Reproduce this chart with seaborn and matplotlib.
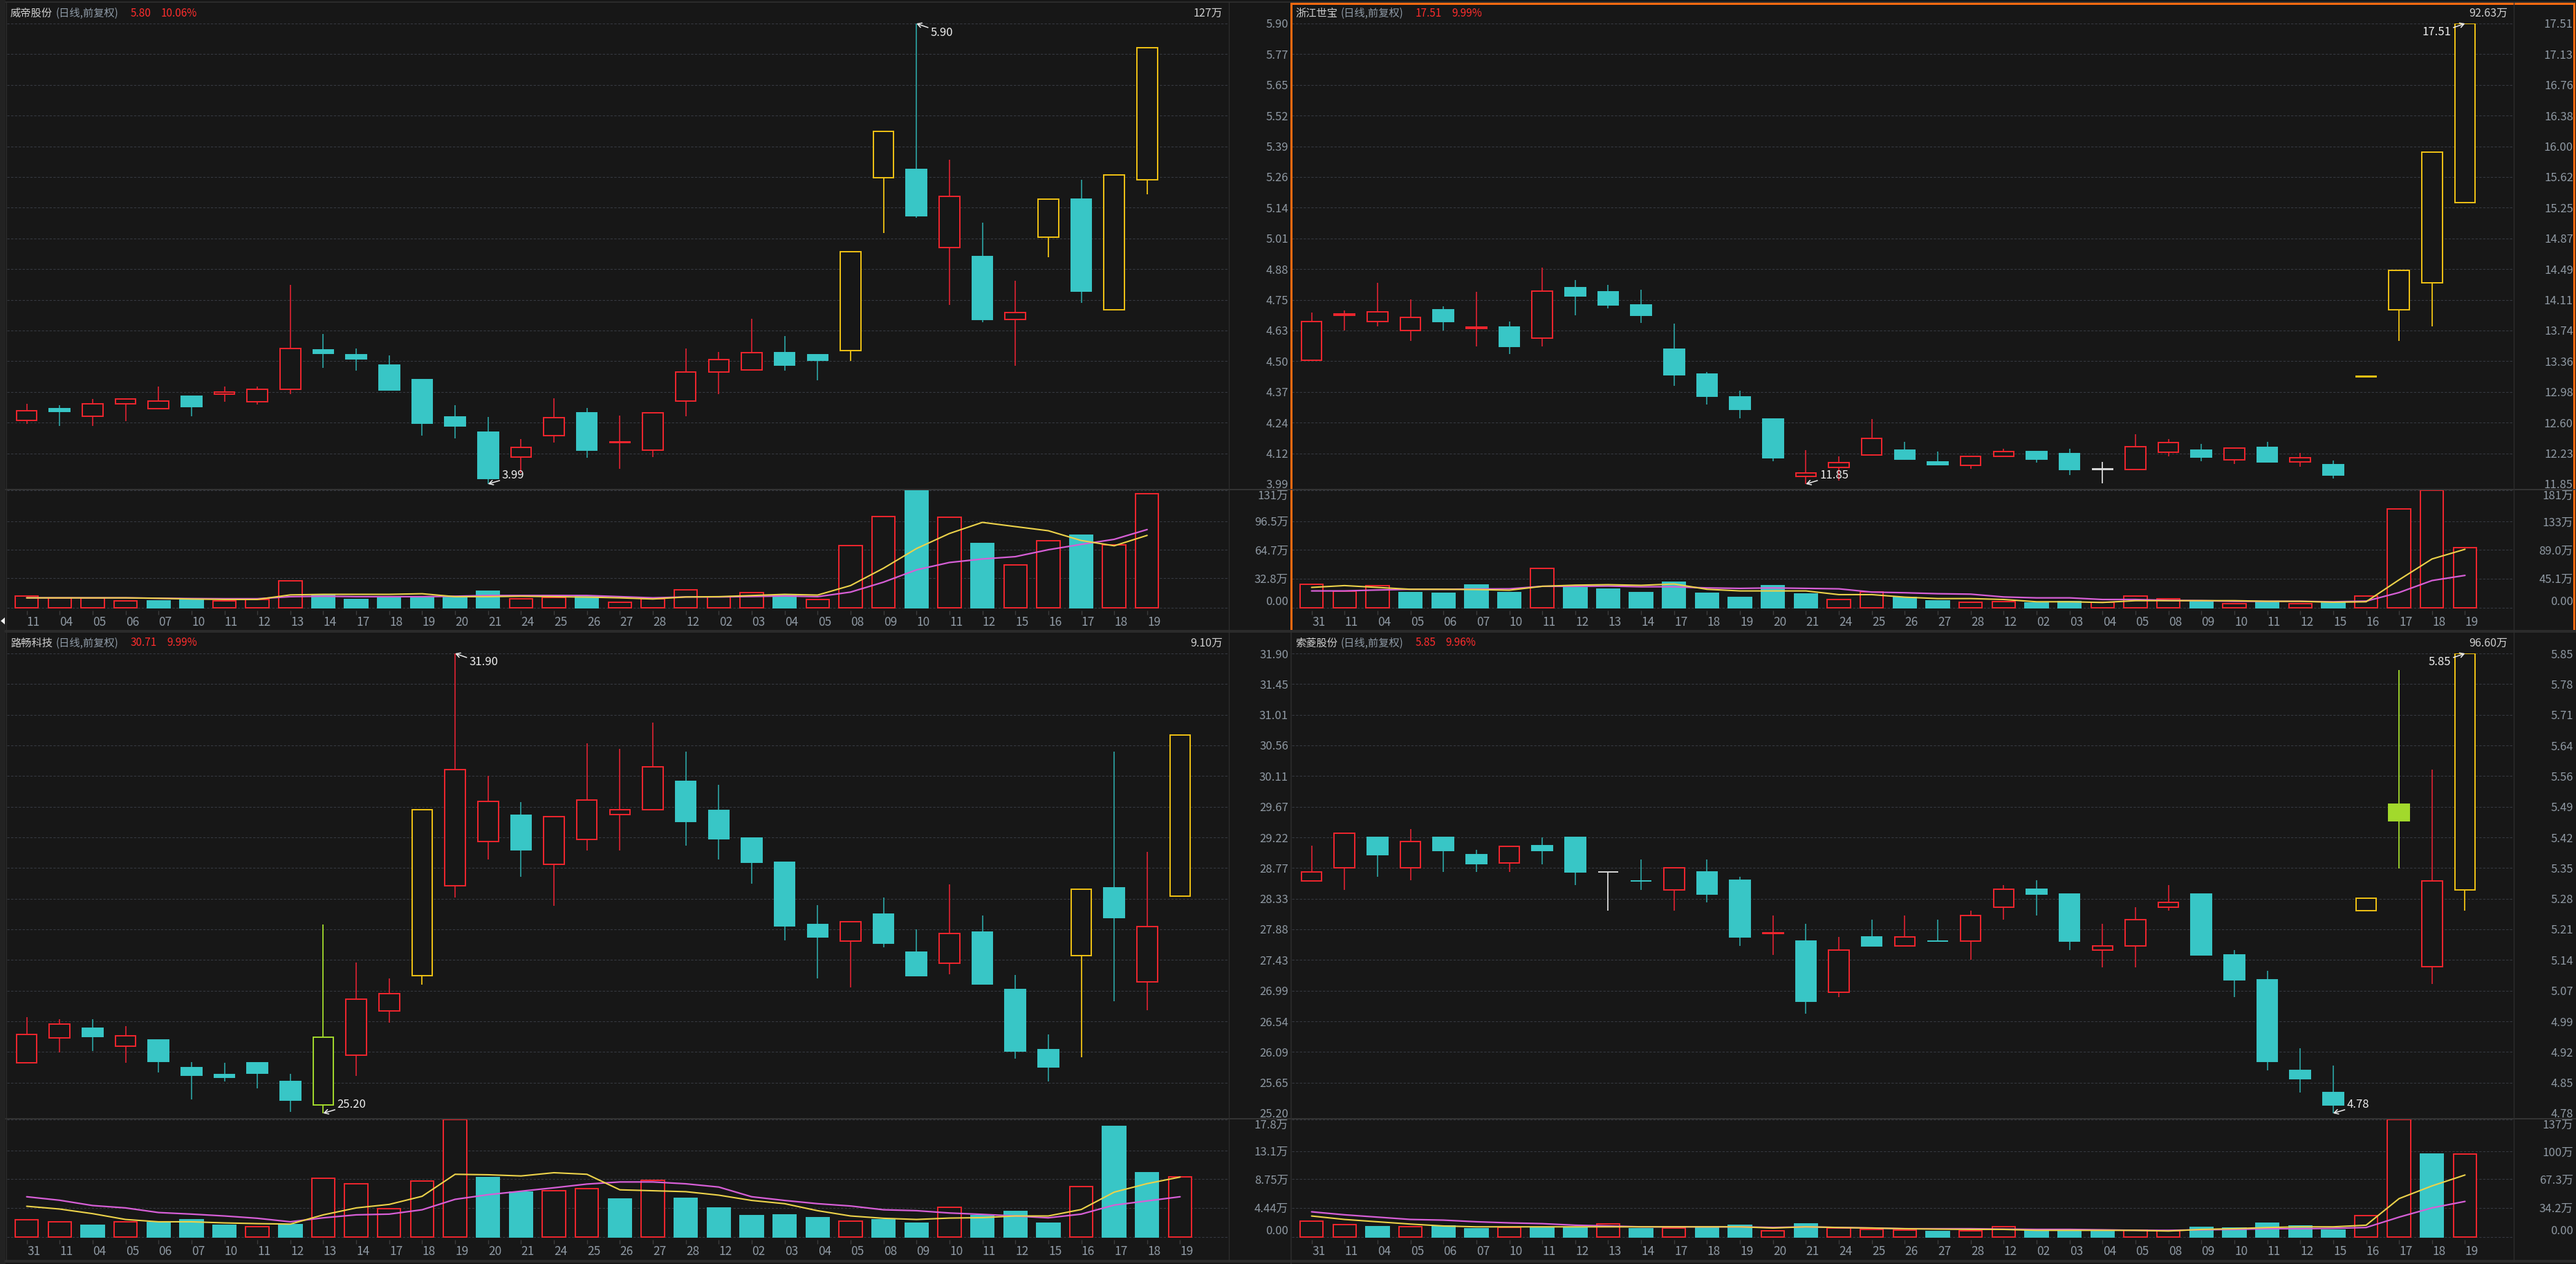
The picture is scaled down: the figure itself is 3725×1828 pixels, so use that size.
import numpy as np
import matplotlib
matplotlib.use("Agg")
import matplotlib.pyplot as plt
import matplotlib.transforms as mtransforms
from matplotlib.patches import Rectangle, Polygon
import seaborn as sns

# ---------------- data ----------------
dates_a = ["11", "04", "05", "06", "07", "10", "11", "12", "13", "14", "17", "18", "19", "20", "21",
           "24", "25", "26", "27", "28", "12", "02", "03", "04", "05", "08", "09", "10", "11", "12",
           "15", "16", "17", "18", "19"]
dates_b = ["31", "11", "04", "05", "06", "07", "10", "11", "12", "13", "14", "17", "18", "19", "20",
           "21", "24", "25", "26", "27", "28", "12", "02", "03", "04", "05", "08", "09", "10", "11",
           "12", "15", "16", "17", "18", "19"]

# 威帝股份
open_a = [4.254, 4.304, 4.272, 4.322, 4.302, 4.355, 4.364, 4.331, 4.383, 4.545, 4.525, 4.484, 4.423,
          4.267, 4.205, 4.102, 4.192, 4.284, 4.162, 4.131, 4.333, 4.454, 4.462, 4.534, 4.525, 4.543,
          5.261, 5.294, 4.971, 4.933, 4.672, 5.014, 5.172, 4.712, 5.251]
close_a = [4.293, 4.291, 4.322, 4.344, 4.333, 4.311, 4.372, 4.384, 4.551, 4.531, 4.510, 4.381, 4.242,
           4.230, 4.014, 4.143, 4.264, 4.130, 4.165, 4.284, 4.455, 4.506, 4.534, 4.483, 4.502, 4.953,
           5.452, 5.102, 5.182, 4.672, 4.701, 5.172, 4.791, 5.272, 5.80]
high_a = [4.323, 4.317, 4.343, 4.345, 4.394, 4.355, 4.394, 4.394, 4.816, 4.613, 4.553, 4.524, 4.423,
          4.317, 4.267, 4.176, 4.346, 4.306, 4.273, 4.284, 4.553, 4.537, 4.675, 4.604, 4.525, 4.953,
          5.452, 5.90, 5.336, 5.073, 4.833, 5.172, 5.252, 5.272, 5.80]
low_a = [4.240, 4.230, 4.230, 4.252, 4.302, 4.271, 4.331, 4.319, 4.362, 4.471, 4.460, 4.379, 4.192,
         4.180, 3.99, 4.036, 4.161, 4.099, 4.052, 4.102, 4.271, 4.363, 4.462, 4.460, 4.421, 4.501,
         5.031, 5.093, 4.732, 4.662, 4.481, 4.932, 4.741, 4.712, 5.193]
vol_a = [13.2, 10.6, 10.6, 8.0, 7.5, 9.8, 8.0, 9.3, 30.4, 15.0, 9.3, 12.4, 12.4, 12.4, 18.3, 10.1,
         11.3, 12.4, 6.2, 9.8, 19.9, 12.4, 17.3, 13.7, 9.3, 69.4, 102.1, 131.0, 100.8, 71.9, 48.0,
         75.0, 80.7, 70.4, 127.1]
ma5_a = [11.1, 11.1, 11.1, 11.1, 10.6, 9.8, 9.3, 9.3, 14.4, 15.0, 15.0, 15.0, 15.7, 12.4, 12.4, 12.9,
         12.4, 11.9, 11.1, 9.8, 12.1, 12.4, 13.7, 15.0, 14.2, 24.8, 44.1, 66.0, 82.8, 95.2, 90.5,
         85.9, 75.0, 69.1, 80.7]
ma10_a = [11.1, 11.1, 11.1, 11.1, 10.6, 10.3, 10.1, 10.1, 12.4, 12.9, 12.4, 12.4, 12.4, 12.9, 13.7,
          13.7, 13.7, 13.7, 12.4, 11.1, 12.1, 12.1, 12.6, 13.2, 12.4, 17.5, 28.6, 42.3, 50.5, 54.4,
          57.0, 64.7, 70.7, 76.3, 87.2]
chg_a = [1, 1, 1, 1, -1, -1, 1, 1, 1, -1, -1, -1, -1, -1, -1, 1, 1, -1, 1, 1, 1, 1, 1, -1, 1, 1, 1,
         -1, 1, -1, 1, 1, -1, 1, 1]
limit_a = [25, 26, 31, 33, 34]
touch_a = []
flat_a = []
pticks_a = ["5.90", "5.77", "5.65", "5.52", "5.39", "5.26", "5.14", "5.01", "4.88", "4.75", "4.63",
            "4.50", "4.37", "4.24", "4.12", "3.99"]
vticks_a = [0, 32.8, 64.7, 96.5, 131]
vlabels_a = ["0.00", "32.8万", "64.7万", "96.5万", "131万"]

# 浙江世宝
open_b = [13.37, 13.92, 13.85, 13.74, 13.99, 13.76, 13.78, 13.64, 14.26, 14.21, 14.05, 13.51, 13.20,
          12.92, 12.65, 11.94, 12.05, 12.21, 12.27, 12.12, 12.08, 12.19, 12.25, 12.22, 12.03, 12.03,
          12.24, 12.27, 12.15, 12.30, 12.12, 12.09, 13.17, 13.99, 14.32, 15.31]
close_b = [13.85, 13.94, 13.97, 13.90, 13.85, 13.78, 13.54, 14.22, 14.16, 14.05, 13.92, 13.19, 12.93,
           12.77, 12.17, 11.99, 12.11, 12.41, 12.16, 12.09, 12.19, 12.25, 12.16, 12.03, 12.03, 12.31,
           12.36, 12.18, 12.29, 12.12, 12.17, 11.96, 13.17, 14.48, 15.93, 17.51]
high_b = [13.96, 13.98, 14.32, 14.12, 14.03, 14.21, 13.85, 14.51, 14.36, 14.30, 14.24, 13.82, 13.23,
          13.00, 12.66, 12.27, 12.19, 12.65, 12.37, 12.25, 12.20, 12.28, 12.25, 12.28, 12.12, 12.46,
          12.40, 12.34, 12.30, 12.37, 12.23, 12.14, 13.17, 14.48, 15.93, 17.51]
low_b = [13.37, 13.74, 13.79, 13.61, 13.74, 13.54, 13.45, 13.54, 13.92, 14.01, 13.83, 13.06, 12.83,
         12.66, 12.13, 11.85, 11.89, 12.20, 12.15, 12.09, 12.04, 12.18, 12.11, 11.96, 11.86, 12.03,
         12.19, 12.13, 12.10, 12.11, 12.06, 11.92, 13.17, 13.61, 13.79, 15.31]
vol_b = [36.0, 26.0, 34.2, 23.5, 22.1, 35.6, 23.5, 60.9, 31.3, 28.9, 23.5, 39.5, 22.1, 15.7, 34.2,
         21.0, 12.8, 24.6, 15.7, 10.3, 8.6, 9.3, 7.5, 10.0, 8.2, 18.2, 14.3, 11.0, 6.8, 9.3, 6.8, 8.6,
         18.2, 151.8, 181.0, 92.6]
ma5_b = [31.4, 34.2, 31.4, 28.5, 28.5, 28.1, 27.1, 33.1, 34.9, 35.6, 34.6, 36.7, 28.5, 26.0, 26.0,
         26.0, 20.3, 20.3, 16.4, 14.2, 14.2, 12.8, 9.3, 9.3, 8.2, 11.0, 11.0, 11.0, 11.0, 10.0, 10.0,
         8.6, 9.3, 43.1, 75.2, 90.1]
ma10_b = [26.0, 26.0, 27.4, 28.5, 28.5, 28.9, 29.2, 33.1, 33.1, 33.5, 32.4, 32.4, 30.6, 29.9, 30.6,
          29.9, 29.2, 24.2, 23.2, 21.7, 21.0, 16.7, 15.3, 15.3, 12.8, 12.8, 11.4, 11.0, 10.0, 10.0,
          10.0, 9.3, 10.3, 23.5, 42.0, 49.9]
chg_b = [1, 1, 1, -1, -1, -1, -1, 1, -1, -1, -1, -1, -1, -1, -1, -1, 1, 1, -1, -1, 1, 1, -1, -1, 1,
         1, 1, -1, 1, -1, 1, -1, 1, 1, 1, 1]
limit_b = [32, 33, 34, 35]
touch_b = []
flat_b = [24]
pticks_b = ["17.51", "17.13", "16.76", "16.38", "16.00", "15.62", "15.25", "14.87", "14.49", "14.11",
            "13.74", "13.36", "12.98", "12.60", "12.23", "11.85"]
vticks_b = [0, 45.1, 89.0, 133, 181]
vlabels_b = ["0.00", "45.1万", "89.0万", "133万", "181万"]

# 路畅科技
open_c = [25.94, 26.30, 26.44, 26.18, 26.27, 25.87, 25.76, 25.94, 25.66, 25.32, 26.05, 26.69, 27.20,
          28.51, 29.16, 29.54, 28.83, 29.19, 29.55, 29.62, 30.04, 29.61, 29.21, 28.86, 27.95, 27.71,
          28.10, 27.55, 27.39, 27.84, 27.00, 26.13, 27.50, 28.48, 27.11, 28.36]
close_c = [26.35, 26.50, 26.32, 26.33, 25.96, 25.75, 25.72, 25.78, 25.39, 26.31, 26.86, 26.94, 29.62,
           30.21, 29.74, 29.04, 29.52, 29.76, 29.62, 30.25, 29.45, 29.20, 28.86, 27.93, 27.77, 27.99,
           27.68, 27.20, 27.82, 27.08, 26.11, 25.88, 28.46, 28.05, 27.92, 30.71]
high_c = [26.60, 26.57, 26.57, 26.47, 26.27, 25.95, 25.94, 25.94, 25.77, 27.95, 27.40, 27.16, 29.62,
          31.90, 30.12, 29.73, 29.52, 30.59, 30.51, 30.89, 30.47, 29.99, 29.21, 28.86, 28.23, 27.99,
          28.34, 27.88, 28.53, 28.08, 27.22, 26.35, 28.46, 30.47, 29.01, 30.71]
low_c = [25.94, 26.09, 26.11, 25.94, 25.79, 25.40, 25.66, 25.56, 25.22, 25.20, 25.74, 26.52, 27.07,
         28.34, 28.90, 28.65, 28.22, 29.03, 29.03, 29.62, 29.10, 28.90, 28.55, 27.72, 27.16, 27.03,
         27.62, 27.20, 27.23, 27.08, 26.00, 25.66, 26.02, 26.83, 26.70, 28.36]
vol_c = [2.66, 2.31, 1.79, 2.31, 2.24, 2.59, 1.79, 1.54, 1.93, 8.86, 8.09, 4.27, 8.44, 17.8, 9.00,
         6.83, 6.97, 7.32, 5.75, 8.62, 5.85, 4.45, 3.22, 3.40, 2.98, 2.45, 2.59, 2.07, 4.55, 3.22,
         3.89, 2.07, 7.67, 16.75, 9.78, 9.10]
ma5_c = [4.66, 4.24, 3.54, 2.66, 2.31, 2.31, 2.14, 2.03, 1.96, 3.36, 4.41, 4.94, 6.17, 9.50, 9.43,
         9.25, 9.74, 9.50, 7.15, 7.01, 6.87, 6.34, 5.54, 5.05, 3.99, 3.19, 2.84, 2.66, 2.87, 2.94,
         3.19, 3.19, 4.17, 6.80, 8.09, 9.08]
ma10_c = [6.10, 5.57, 4.77, 4.41, 3.71, 3.47, 3.19, 2.84, 2.31, 2.91, 3.36, 3.47, 4.13, 5.71, 6.41,
          6.94, 7.46, 8.02, 8.34, 8.34, 8.06, 7.57, 6.10, 5.54, 5.05, 4.70, 4.13, 3.99, 3.64, 3.43,
          3.19, 2.91, 3.47, 4.84, 5.47, 6.10]
chg_c = [1, 1, -1, 1, -1, -1, -1, 1, -1, 1, 1, 1, 1, 1, -1, -1, 1, 1, -1, 1, -1, -1, -1, -1, -1, 1,
         -1, -1, 1, -1, -1, -1, 1, -1, -1, 1]
limit_c = [12, 32, 35]
touch_c = [9]
flat_c = []
pticks_c = ["31.90", "31.45", "31.01", "30.56", "30.11", "29.67", "29.22", "28.77", "28.33", "27.88",
            "27.43", "26.99", "26.54", "26.09", "25.65", "25.20"]
vticks_c = [0, 4.44, 8.75, 13.1, 17.8]
vlabels_c = ["0.00", "4.44万", "8.75万", "13.1万", "17.8万"]

# 索菱股份
open_d = [5.321, 5.351, 5.422, 5.351, 5.422, 5.381, 5.362, 5.402, 5.422, 5.341, 5.321, 5.299, 5.341,
          5.322, 5.199, 5.180, 5.062, 5.190, 5.170, 5.181, 5.180, 5.260, 5.301, 5.290, 5.160, 5.170,
          5.260, 5.290, 5.149, 5.090, 4.880, 4.829, 5.251, 5.500, 5.121, 5.299]
close_d = [5.342, 5.432, 5.381, 5.412, 5.391, 5.361, 5.401, 5.391, 5.341, 5.341, 5.320, 5.351, 5.290,
           5.190, 5.200, 5.041, 5.160, 5.170, 5.190, 5.180, 5.240, 5.301, 5.290, 5.180, 5.170, 5.231,
           5.270, 5.149, 5.090, 4.900, 4.860, 4.800, 5.280, 5.461, 5.321, 5.85]
high_d = [5.402, 5.432, 5.422, 5.441, 5.422, 5.393, 5.401, 5.422, 5.422, 5.341, 5.371, 5.351, 5.371,
          5.330, 5.240, 5.221, 5.190, 5.231, 5.240, 5.231, 5.251, 5.311, 5.322, 5.290, 5.221, 5.260,
          5.311, 5.290, 5.160, 5.111, 4.931, 4.891, 5.280, 5.812, 5.580, 5.85]
low_d = [5.321, 5.299, 5.330, 5.322, 5.341, 5.341, 5.341, 5.360, 5.311, 5.251, 5.299, 5.251, 5.270,
         5.170, 5.149, 5.011, 5.051, 5.170, 5.170, 5.180, 5.138, 5.231, 5.240, 5.160, 5.120, 5.120,
         5.251, 5.149, 5.051, 4.880, 4.829, 4.78, 5.251, 5.350, 5.081, 5.251]
vol_d = [18.6, 14.8, 11.9, 12.4, 12.9, 9.7, 11.1, 11.1, 11.1, 15.6, 9.7, 10.2, 11.1, 13.8, 7.6, 15.1,
         10.5, 8.9, 7.8, 6.5, 7.6, 11.9, 8.1, 8.1, 6.5, 7.8, 7.6, 11.1, 10.2, 15.9, 13.2, 7.8, 24.8,
         137.0, 96.8, 96.6]
ma5_d = [24.5, 20.5, 17.8, 15.1, 12.9, 11.9, 11.9, 11.9, 11.9, 11.9, 11.9, 11.9, 11.9, 11.9, 10.5,
         11.9, 11.1, 10.5, 9.7, 9.2, 8.9, 8.9, 7.8, 7.8, 7.8, 7.8, 7.0, 8.9, 9.7, 11.1, 11.9, 11.9,
         13.8, 44.8, 59.6, 72.3]
ma10_d = [29.4, 25.9, 23.2, 20.5, 19.7, 17.8, 16.5, 15.6, 13.8, 12.9, 11.9, 11.9, 11.9, 11.9, 11.1,
          11.9, 11.1, 10.5, 9.7, 9.7, 9.7, 9.2, 8.9, 8.9, 8.4, 7.8, 7.8, 8.4, 8.9, 9.7, 9.7, 10.2,
          11.1, 23.2, 34.0, 41.5]
chg_d = [1, 1, -1, 1, -1, -1, 1, -1, -1, 1, -1, 1, -1, -1, 1, -1, 1, 1, 1, -1, 1, 1, -1, -1, -1, 1,
         1, -1, -1, -1, -1, -1, 1, 1, -1, 1]
limit_d = [32, 35]
touch_d = [33]
flat_d = [9]
pticks_d = ["5.85", "5.78", "5.71", "5.64", "5.56", "5.49", "5.42", "5.35", "5.28", "5.21", "5.14",
            "5.07", "4.99", "4.92", "4.85", "4.78"]
vticks_d = [0, 34.2, 67.3, 100, 137]
vlabels_d = ["0.00", "34.2万", "67.3万", "100万", "137万"]

names = ["威帝股份", "浙江世宝", "路畅科技", "索菱股份"]
last_price = ["5.80", "17.51", "30.71", "5.85"]
last_pct = ["10.06%", "9.99%", "9.99%", "9.96%"]
last_vol = ["127万", "92.63万", "9.10万", "96.60万"]

# ---------------- style ----------------
BG = "#171717"
GRID = "#363940"
RED = "#f0262e"
RED_W = "#cf2230"
CYAN = "#38c6c6"
CYAN_W = "#2a9a9a"
YEL = "#f0c214"
LIME = "#a2d92c"
FLAT = "#d8d8d8"
MA5_C = "#ecd24a"
MA10_C = "#d65fd6"
TICK_C = "#8f99a3"
NAME_C = "#cfcfcf"
PAREN_C = "#8e9aa6"
HRED = "#ff2d2d"
ANNO_C = "#eeeeee"

sns.set_style("dark", {"axes.facecolor": BG, "figure.facecolor": BG})
plt.rcParams["font.family"] = ["Noto Sans CJK SC", "DejaVu Sans"]
plt.rcParams["axes.unicode_minus"] = False

W, H = 3725, 1828
fig = plt.figure(figsize=(W / 100, H / 100), dpi=100)
fig.patch.set_facecolor(BG)

XLIM = (-0.6, 36.48)
PANEL_W = 1767
LABEL_PAD = 86 * 72 / 100


def px_axes(l, t, r, b, z=1):
    ax = fig.add_axes([l / W, 1 - b / H, (r - l) / W, (b - t) / H], zorder=z)
    ax.set_facecolor(BG)
    for s in ax.spines.values():
        s.set_visible(False)
    ax.set_axisbelow(True)
    return ax


def right_labels(ax, pos, labels):
    ax.set_yticks(pos)
    ax.set_yticklabels(labels)
    ax.yaxis.tick_right()
    ax.tick_params(axis="y", length=0, pad=LABEL_PAD, labelsize=12, labelcolor=TICK_C)
    for t in ax.get_yticklabels():
        t.set_horizontalalignment("right")
    ax.grid(True, axis="y", color=GRID, linestyle=(0, (3, 2)), linewidth=0.8)
    ax.grid(False, axis="x")


def draw_panel(s, left, pt, pb, vt, vz):
    o, h, lo_, c = (np.asarray(s[k], float) for k in ("open", "high", "low", "close"))
    n = len(o)
    x = np.arange(n)
    lo, hi = float(s["pticks"][-1]), float(s["pticks"][0])

    # ---- price panel ----
    axp = px_axes(left, pt, left + PANEL_W, pb)
    edge, face, wick = [], [], []
    for i in range(n):
        up = c[i] >= o[i]
        if i in s["flat"]:
            e, f, w = FLAT, BG, FLAT
        elif i in s["limit"]:
            e, f, w = YEL, BG, YEL
        elif i in s["touch"]:
            e, f, w = LIME, (BG if up else LIME), LIME
        elif up:
            e, f, w = RED, BG, RED_W
        else:
            e, f, w = CYAN, CYAN, CYAN_W
        edge.append(e)
        face.append(f)
        wick.append(w)
    axp.vlines(x, lo_, h, colors=wick, linewidth=1.3, zorder=2)
    body_h = np.maximum(np.abs(c - o), (hi - lo) * 0.0012)
    axp.bar(x, body_h, 0.62, bottom=np.minimum(o, c), color=face, edgecolor=edge,
            linewidth=1.4, zorder=3)
    axp.set_xlim(*XLIM)
    axp.set_ylim(lo, hi)
    axp.set_xticks([])
    right_labels(axp, np.linspace(lo, hi, len(s["pticks"])), s["pticks"][::-1])

    # header
    t1 = axp.annotate(s["name"], xy=(0, 1), xycoords="axes fraction", xytext=(5, 15),
                      textcoords="offset pixels", ha="left", va="center", fontsize=11, color=NAME_C)
    t2 = axp.annotate("(日线,前复权)", xy=(1, 0.5), xycoords=t1, xytext=(5, 0),
                      textcoords="offset pixels", ha="left", va="center", fontsize=11, color=PAREN_C)
    t3 = axp.annotate(s["last"], xy=(1, 0.5), xycoords=t2, xytext=(17, 0),
                      textcoords="offset pixels", ha="left", va="center", fontsize=11, color=HRED)
    axp.annotate(s["pct"], xy=(1, 0.5), xycoords=t3, xytext=(14, 0),
                 textcoords="offset pixels", ha="left", va="center", fontsize=11, color=HRED)
    axp.annotate(s["vnow"], xy=(1, 1), xycoords="axes fraction", xytext=(-9, 15),
                 textcoords="offset pixels", ha="right", va="center", fontsize=11.5, color=NAME_C)

    # max / min markers
    for i, v, top in ((int(np.argmax(h)), h.max(), True), (int(np.argmin(lo_)), lo_.min(), False)):
        on_left = i > n - 5
        axp.annotate(f"{v:.2f}", xy=(i, v), xytext=(-20 if on_left else 20, -13 if top else 12),
                     textcoords="offset pixels", ha="right" if on_left else "left", va="center",
                     fontsize=12, color=ANNO_C, annotation_clip=False, zorder=6,
                     arrowprops=dict(arrowstyle="->,head_length=0.35,head_width=0.2", color=ANNO_C,
                                     lw=1.1, shrinkA=0, shrinkB=0,
                                     relpos=(1 if on_left else 0, 0.85 if top else 0.15)))

    # ---- volume panel ----
    vmax = s["vticks"][-1]
    axv = px_axes(left, vt, left + PANEL_W, vz + 4)
    up_v = np.asarray(s["chg"]) > 0
    axv.bar(x, s["vol"], 0.7, color=[BG if u else CYAN for u in up_v],
            edgecolor=[RED if u else CYAN for u in up_v], linewidth=1.4, zorder=3)
    sns.lineplot(x=x, y=s["ma10"], ax=axv, color=MA10_C, linewidth=1.6, estimator=None, zorder=4)
    sns.lineplot(x=x, y=s["ma5"], ax=axv, color=MA5_C, linewidth=1.5, estimator=None, zorder=5)
    axv.set_xlim(*XLIM)
    axv.set_ylim(-vmax * 4 / 170, vmax)
    axv.set_xlabel("")
    axv.set_ylabel("")
    right_labels(axv, s["vticks"], s["vlabels"])
    labs = axv.get_yticklabels()
    labs[0].set_verticalalignment("bottom")
    labs[-1].set_verticalalignment("top")
    axv.set_xticks(x)
    axv.set_xticklabels(s["dates"])
    axv.tick_params(axis="x", length=4, width=1, color="#3c3c3c", direction="out", pad=2,
                    labelsize=12.5, labelcolor=TICK_C, bottom=True)
    shift = mtransforms.ScaledTranslation(10 / 100, 0, fig.dpi_scale_trans)
    for lab in axv.get_xticklabels():
        lab.set_transform(lab.get_transform() + shift)


stocks = [
    dict(name=names[0], last=last_price[0], pct=last_pct[0], vnow=last_vol[0], dates=dates_a,
         open=open_a, high=high_a, low=low_a, close=close_a, vol=vol_a, ma5=ma5_a, ma10=ma10_a,
         chg=chg_a, limit=limit_a, touch=touch_a, flat=flat_a, pticks=pticks_a, vticks=vticks_a,
         vlabels=vlabels_a),
    dict(name=names[1], last=last_price[1], pct=last_pct[1], vnow=last_vol[1], dates=dates_b,
         open=open_b, high=high_b, low=low_b, close=close_b, vol=vol_b, ma5=ma5_b, ma10=ma10_b,
         chg=chg_b, limit=limit_b, touch=touch_b, flat=flat_b, pticks=pticks_b, vticks=vticks_b,
         vlabels=vlabels_b),
    dict(name=names[2], last=last_price[2], pct=last_pct[2], vnow=last_vol[2], dates=dates_b,
         open=open_c, high=high_c, low=low_c, close=close_c, vol=vol_c, ma5=ma5_c, ma10=ma10_c,
         chg=chg_c, limit=limit_c, touch=touch_c, flat=flat_c, pticks=pticks_c, vticks=vticks_c,
         vlabels=vlabels_c),
    dict(name=names[3], last=last_price[3], pct=last_pct[3], vnow=last_vol[3], dates=dates_b,
         open=open_d, high=high_d, low=low_d, close=close_d, vol=vol_d, ma5=ma5_d, ma10=ma10_d,
         chg=chg_d, limit=limit_d, touch=touch_d, flat=flat_d, pticks=pticks_d, vticks=vticks_d,
         vlabels=vlabels_d),
]

draw_panel(stocks[0], 10, 34, 700, 709, 879)
draw_panel(stocks[1], 1868, 34, 700, 709, 879)
draw_panel(stocks[2], 10, 945, 1610, 1619, 1789)
draw_panel(stocks[3], 1868, 945, 1610, 1619, 1789)

# ---- frame lines drawn on top, in pixel units ----
ov = fig.add_axes([0, 0, 1, 1], zorder=20)
ov.set_xlim(0, W)
ov.set_ylim(H, 0)
ov.axis("off")
ov.patch.set_alpha(0)
PX = 0.72
ov.add_patch(Rectangle((0, 0), 8, H, color="#222222", lw=0))
ov.add_patch(Polygon([(1, 898), (7, 893), (7, 903)], closed=True, color="#f0f0f0", lw=0))
for yy in (707.5, 1617.5):
    ov.plot([8, W], [yy, yy], color="#3d3d3d", lw=1.5 * PX)
for yy in (913, 1824):
    ov.plot([8, W], [yy, yy], color="#2b2b2b", lw=4 * PX)
ov.plot([8, W], [3, 3], color="#2b2b2b", lw=2 * PX)
for xx in (9, 1777, 3635):
    ov.plot([xx, xx], [3, 1824], color="#2e2e2e", lw=1.2 * PX)
ov.plot([1867, 1867], [913, H], color="#2e2e2e", lw=1.5 * PX)
ov.add_patch(Rectangle((1867, 5), 3722 - 1867, 912 - 5, fill=False, edgecolor="#ff6a10",
                       lw=3 * PX))

fig.savefig("out.png", dpi=100, facecolor=BG)
